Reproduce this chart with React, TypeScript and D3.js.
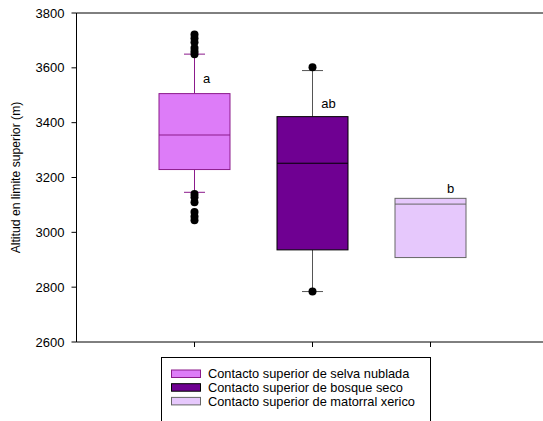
import React from "react";
import * as d3 from "d3";

const categories = ["selva", "bosque", "matorral"];
const legendLabels = [
  "Contacto superior de selva nublada",
  "Contacto superior de bosque seco",
  "Contacto superior de matorral xerico",
];
const q1 = [3229, 2936, 2908];
const medians = [3355, 3252, 3103];
const q3 = [3506, 3422, 3124];
const whiskerLow = [3146, 2784, null];
const whiskerHigh = [3650, 3590, null];
const outliers: number[][] = [
  [3722, 3708, 3693, 3672, 3660, 3650, 3140, 3128, 3110, 3074, 3058, 3044],
  [3602, 2784],
  [],
];
const letters = ["a", "ab", "b"];
const yTicks = [2600, 2800, 3000, 3200, 3400, 3600, 3800];

const fills = ["#DD7CF8", "#6F0092", "#E6C8FC"];
const strokes = ["#8B1A8B", "#000000", "#666666"];
const whiskerColors = ["#8B1A8B", "#555555", "#555555"];

export default function App() {
  const W = 543, H = 421;
  const left = 76.5, top = 13, bottom = 342;
  const y = d3.scaleLinear().domain([2600, 3800]).range([bottom, top]);
  const x = d3.scalePoint<string>().domain(["", ...categories, " "]).range([left, left + 118 * 4]);
  const boxW = 71;
  const capW = 21;
  const font = "Liberation Sans, Arial, sans-serif";
  const letterPos = [
    { dx: 12, v: 3800 - (78 - 13) / 0.2742 },
    { dx: 16, v: 3800 - (103 - 13) / 0.2742 },
    { dx: 20, v: 3800 - (188 - 13) / 0.2742 },
  ];
  return (
    <svg width={W} height={H} style={{ position: "absolute", left: 0, top: 0, background: "#fff" }} fontFamily={font}>
      <line x1={left} x2={W} y1={top} y2={top} stroke="#000" strokeWidth={1} />
      <line x1={left} x2={W} y1={bottom} y2={bottom} stroke="#000" strokeWidth={1} />
      <line x1={left} x2={left} y1={top} y2={bottom} stroke="#000" strokeWidth={1} />
      {yTicks.map((t) => (
        <g key={t}>
          <line x1={left - 5} x2={left} y1={y(t)} y2={y(t)} stroke="#000" />
          <text x={left - 12} y={y(t)} dy="0.35em" textAnchor="end" fontSize={13}>
            {t}
          </text>
        </g>
      ))}
      {categories.map((c) => (
        <line key={c} x1={x(c)!} x2={x(c)!} y1={bottom} y2={bottom + 5} stroke="#000" />
      ))}
      <text
        transform={`translate(${16},${(top + bottom) / 2}) rotate(-90)`}
        textAnchor="middle"
        dy="0.35em"
        fontSize={12.2}
      >
        Altitud en limite superior (m)
      </text>
      {categories.map((c, i) => {
        const cx = x(c)!;
        const wl = whiskerLow[i];
        const wh = whiskerHigh[i];
        return (
          <g key={c}>
            {wh != null && (
              <>
                <line x1={cx} x2={cx} y1={y(q3[i])} y2={y(wh)} stroke={whiskerColors[i]} />
                <line x1={cx - capW / 2} x2={cx + capW / 2} y1={y(wh)} y2={y(wh)} stroke={whiskerColors[i]} />
              </>
            )}
            {wl != null && (
              <>
                <line x1={cx} x2={cx} y1={y(q1[i])} y2={y(wl)} stroke={whiskerColors[i]} />
                <line x1={cx - capW / 2} x2={cx + capW / 2} y1={y(wl)} y2={y(wl)} stroke={whiskerColors[i]} />
              </>
            )}
            <rect
              x={cx - boxW / 2}
              y={y(q3[i])}
              width={boxW}
              height={y(q1[i]) - y(q3[i])}
              fill={fills[i]}
              stroke={strokes[i]}
              strokeWidth={1}
            />
            <line x1={cx - boxW / 2} x2={cx + boxW / 2} y1={y(medians[i])} y2={y(medians[i])} stroke={strokes[i]} />
            {outliers[i].map((o, k) => (
              <circle key={k} cx={cx} cy={y(o)} r={4} fill="#000" />
            ))}
            <text x={cx + letterPos[i].dx} y={y(letterPos[i].v)} dy="0.35em" textAnchor="middle" fontSize={13}>
              {letters[i]}
            </text>
          </g>
        );
      })}
      <rect x={161.5} y={357.5} width={269} height={66} fill="#fff" stroke="#000" strokeWidth={1} />
      {legendLabels.map((l, i) => (
        <g key={l}>
          <rect x={171.5} y={370 + i * 13.7} width={29} height={7.5} fill={fills[i]} stroke={i === 1 ? "#000" : i === 0 ? "#8B1A8B" : "#666"} />
          <text x={208} y={374 + i * 13.7} dy="0.35em" fontSize={12.8}>
            {l}
          </text>
        </g>
      ))}
    </svg>
  );
}
